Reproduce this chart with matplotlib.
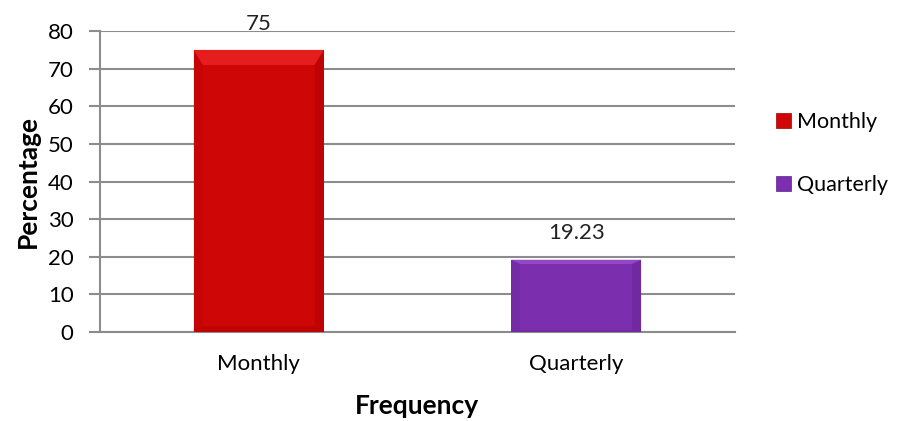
import matplotlib.pyplot as plt
from matplotlib.patches import Polygon, Patch

categories = ["Monthly", "Quarterly"]
values = [75, 19.23]
value_labels = ["75", "19.23"]
colors = ["#CF0606", "#7B2FAE"]
light = ["#F02828", "#A050D2"]
dark = ["#9E0000", "#5E1E8A"]

plt.rcParams["font.family"] = ["Lato", "DejaVu Sans"]

fig = plt.figure(figsize=(9.05, 4.21), dpi=100)
ax = fig.add_axes([0.1105, 0.2114, 0.7015, 0.7148])

bars = ax.bar(range(len(categories)), values, width=0.41, color=colors, zorder=3)

# soft bevel: lighter top edge, slightly darker sides
for b, lc, dc in zip(bars, light, dark):
    x0, y0 = b.get_x(), b.get_y()
    w, h = b.get_width(), b.get_height()
    dx = w * 0.07
    dy = min(h * 0.06, 4.0)
    ax.add_patch(Polygon([(x0, y0 + h), (x0 + w, y0 + h), (x0 + w - dx, y0 + h - dy),
                          (x0 + dx, y0 + h - dy)], closed=True, color=lc, lw=0, alpha=0.7, zorder=4))
    ax.add_patch(Polygon([(x0 + w, y0 + h), (x0 + w, y0), (x0 + w - dx, y0 + dy * 0.4),
                          (x0 + w - dx, y0 + h - dy)], closed=True, color=dc, lw=0, alpha=0.35, zorder=4))
    ax.add_patch(Polygon([(x0, y0 + h), (x0, y0), (x0 + dx, y0 + dy * 0.4),
                          (x0 + dx, y0 + h - dy)], closed=True, color=dc, lw=0, alpha=0.2, zorder=4))
    ax.add_patch(Polygon([(x0, y0), (x0 + w, y0), (x0 + w - dx, y0 + dy * 0.4),
                          (x0 + dx, y0 + dy * 0.4)], closed=True, color=dc, lw=0, alpha=0.3, zorder=4))

for i, (v, t) in enumerate(zip(values, value_labels)):
    ax.text(i, v + 4.3, t, ha="center", va="bottom", fontsize=16, color="#222222", zorder=5)

ax.set_xlim(-0.5, 1.5)
ax.set_ylim(0, 80)
ax.set_yticks(range(0, 81, 10))
ax.set_xticks(range(len(categories)))
ax.set_xticklabels(categories)
ax.tick_params(axis="y", length=8, width=1.5, color="#8C8C8C", labelsize=16, pad=11)
ax.tick_params(axis="x", length=0, labelsize=16, pad=16)
ax.grid(axis="y", color="#8C8C8C", linewidth=1.5, zorder=0)
for s in ["top", "right"]:
    ax.spines[s].set_visible(False)
for s in ["left", "bottom"]:
    ax.spines[s].set_color("#8C8C8C")
    ax.spines[s].set_linewidth(1.5)

ax.set_ylabel("Percentage", fontsize=19, fontweight="bold", labelpad=6)
ax.set_xlabel("Frequency", fontsize=19, fontweight="bold", labelpad=14)

handles = [Patch(facecolor=c, edgecolor=d, linewidth=0.5) for c, d in zip(colors, dark)]
fig.legend(handles, categories, loc="center left", bbox_to_anchor=(0.836, 0.636),
           frameon=False, fontsize=15.5, handlelength=0.7, handleheight=0.7,
           handletextpad=0.3, labelspacing=2.0)

fig.savefig("out.png", dpi=100)
